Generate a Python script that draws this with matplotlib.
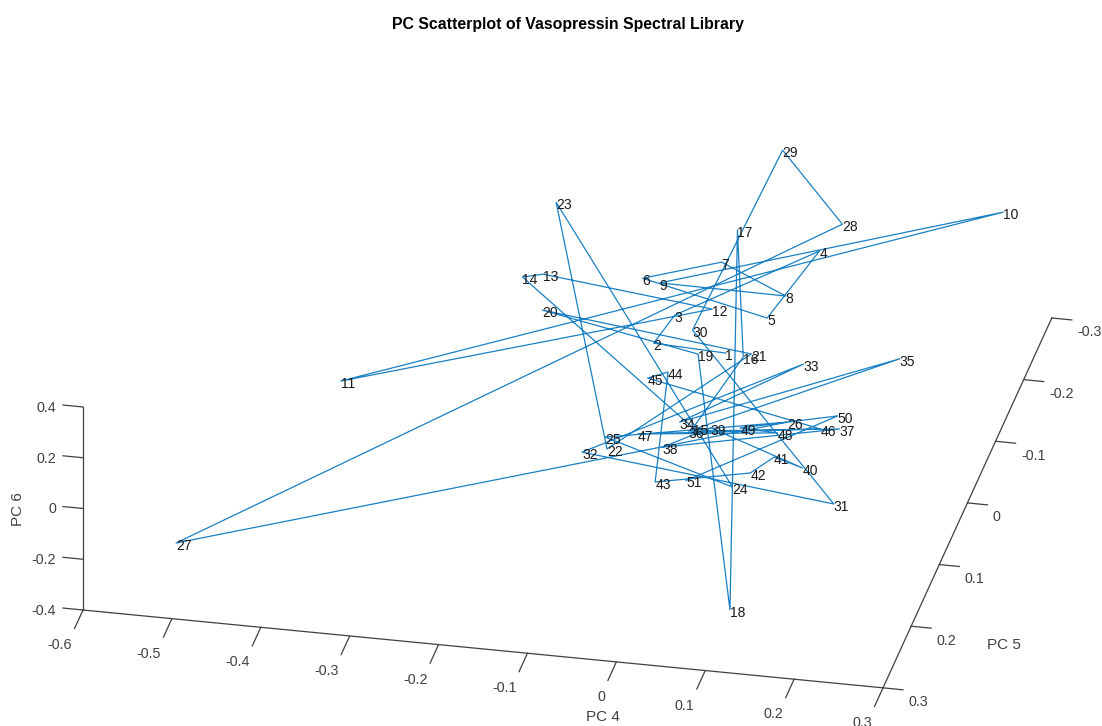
import numpy as np
import matplotlib
matplotlib.use('Agg')
import matplotlib.pyplot as plt
from matplotlib.transforms import IdentityTransform
from mpl_toolkits.mplot3d import proj3d

plt.rcParams['font.family'] = ['Liberation Sans', 'DejaVu Sans']
plt.rcParams['axes.unicode_minus'] = False

# spectrum number is just the position in these lists (1..51)
pc4 = [0.012, -0.053, -0.045, 0.086, 0.043, -0.097, -0.024, 0.064, -0.062, 0.261,
       -0.405, -0.003, -0.209, -0.248, 0.023, 0.032, -0.022, 0.112, -0.003, -0.194,
       0.057, -0.058, -0.226, 0.099, -0.060, 0.113, -0.527, 0.096, 0.013, -0.025,
       0.213, -0.086, 0.100, 0.008, 0.208, 0.018, 0.172, 0.004, 0.043, 0.162,
       0.130, 0.119, 0.012, -0.021, -0.044, 0.166, -0.039, 0.118, 0.076, 0.170,
       0.047]
pc5 = [-0.05, 0.0, -0.05, -0.15, -0.1, -0.1, -0.15, -0.1, -0.05, -0.25,
       0.0, -0.05, -0.1, -0.15, 0.1, -0.05, -0.2, 0.25, 0.0, -0.05,
       0.0, 0.15, -0.2, 0.2, 0.15, 0.05, 0.2, -0.2, -0.25, -0.05,
       0.2, 0.15, -0.05, 0.1, -0.05, 0.1, 0.05, 0.15, 0.1, 0.15,
       0.15, 0.2, 0.2, 0.05, 0.05, 0.1, 0.1, 0.1, 0.1, 0.05,
       0.2]
pc6 = [-0.029, 0.109, 0.101, 0.155, -0.002, 0.107, 0.074, 0.092, 0.222, 0.125,
       -0.160, 0.139, 0.085, -0.061, 0.044, -0.038, 0.079, -0.278, 0.083, 0.070,
       0.104, 0.055, 0.120, 0.080, 0.101, -0.024, -0.354, 0.143, 0.285, 0.049,
       0.052, 0.033, -0.042, 0.062, 0.015, 0.030, -0.031, 0.083, 0.051, 0.055,
       0.087, 0.142, 0.070, 0.128, 0.096, 0.089, -0.001, 0.057, 0.062, 0.020,
       0.088]
spectra = [str(i + 1) for i in range(len(pc4))]

pc4_ticks = [-0.6, -0.5, -0.4, -0.3, -0.2, -0.1, 0, 0.1, 0.2, 0.3]
pc5_ticks = [-0.3, -0.2, -0.1, 0, 0.1, 0.2, 0.3]
pc6_ticks = [-0.4, -0.2, 0, 0.2, 0.4]

grey = '#404040'
tick_size = 10.3

fig = plt.figure(figsize=(11.02, 7.26), dpi=100)
S = 1500
ax = fig.add_axes([0, 0, S / 1102, S / 726], projection='3d', proj_type='ortho')
ax.patch.set_alpha(0)
ax.view_init(elev=27.5, azim=-78.1)
ax.set_xlim(-0.6, 0.3)
ax.set_ylim(0.3, -0.3)
ax.set_zlim(-0.4, 0.4)
ax.set_axis_off()


def to_pixels(x, y, z):
    ax.apply_aspect()
    px, py, _ = proj3d.proj_transform(x, y, z, ax.get_proj())
    return ax.transData.transform((px, py))


# fit the box on the figure: left corner at (83,610), bottom corner at (883,688)
aspect = (818, 819, 229)
ax.set_box_aspect(aspect)
a, b = to_pixels(-0.6, 0.3, -0.4), to_pixels(0.3, 0.3, -0.4)
ax.set_box_aspect(aspect, zoom=np.hypot(800, 78) / np.hypot(*(b - a)))
a = to_pixels(-0.6, 0.3, -0.4)
ax.set_position([(83 - a[0]) / 1102, (726 - 610 - a[1]) / 726, S / 1102, S / 726])


def label_at(x, y, z, s, dx, dy, **kw):
    # text next to a 3d point, offset in pixels (dy down like in the screenshot)
    px, py = to_pixels(x, y, z)
    fig.text(px + dx, py - dy, s, transform=IdentityTransform(), va='center', **kw)


ax.plot(pc4, pc5, pc6, color='#1a80c4', lw=0.9)
for x, y, z, s in zip(pc4, pc5, pc6, spectra):
    label_at(x, y, z, s, 0, 3, fontsize=10, color='#1a1a1a', ha='left')

# matlab style box edges, the 3d axis puts these on the wrong corners
axis_style = dict(color=grey, lw=0.9)
ax.plot([-0.6, 0.3], [0.3, 0.3], [-0.4, -0.4], **axis_style)
ax.plot([0.3, 0.3], [0.3, -0.3], [-0.4, -0.4], **axis_style)
ax.plot([-0.6, -0.6], [0.3, 0.3], [-0.4, 0.4], **axis_style)

for t in pc4_ticks:
    ax.plot([t, t], [0.3, 0.33], [-0.4, -0.4], **axis_style)
    label_at(t, 0.3, -0.4, f'{t:g}', -11, 35, fontsize=tick_size, color=grey, ha='right')
for t in pc5_ticks:
    ax.plot([0.3, 0.3225], [t, t], [-0.4, -0.4], **axis_style)
    label_at(0.3, t, -0.4, f'{t:g}', 25.5, 14.5, fontsize=tick_size, color=grey, ha='left')
for t in pc6_ticks:
    ax.plot([-0.6, -0.6225], [0.3, 0.3], [t, t], **axis_style)
    label_at(-0.6, 0.3, t, f'{t:g}', -27, 1, fontsize=tick_size, color=grey, ha='right')

fig.text(568 / 1102, 1 - 24 / 726, 'PC Scatterplot of Vasopressin Spectral Library',
         ha='center', va='center', fontsize=11.4, fontweight='bold')
fig.text(603 / 1102, 1 - 717 / 726, 'PC 4', ha='center', va='center', fontsize=11, color=grey)
fig.text(1004 / 1102, 1 - 645 / 726, 'PC 5', ha='center', va='center', fontsize=11, color=grey)
fig.text(18 / 1102, 1 - 509 / 726, 'PC 6', ha='center', va='center', fontsize=11, color=grey, rotation=90)

fig.savefig('out.png', dpi=100)
